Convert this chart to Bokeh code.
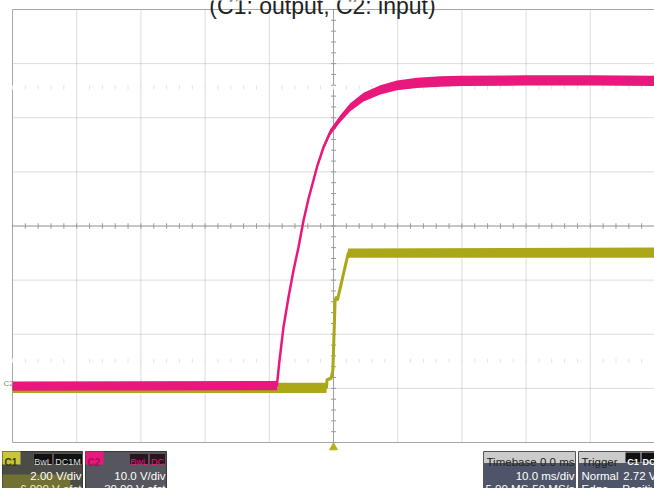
import numpy as np
from bokeh.plotting import figure
from bokeh.models import Range1d
from bokeh.embed import file_html
from bokeh.resources import INLINE
from bokeh.core.properties import value

# ---------------- data ----------------
TITLE = "(C1: output, C2: input)"
time_div = 10.0          # ms/div
time_divs = 10
volt_divs = 8

# C1 : output, 2.00 V/div, -6.000 V offset
c1_scale, c1_offset = 2.0, -6.0
c1_t = [-50.0, -1.1, -1.0, -0.4, -0.1, 0.25, 0.45, 0.6, 2.3, 50.0]          # ms
c1_v = [0.02, 0.02, 0.33, 0.36, 0.66, 3.25, 3.39, 3.25, 5.0, 5.02]          # V
c1_noise = [0.19, 0.19, 0.05, 0.05, 0.03, 0.03, 0.03, 0.03, 0.17, 0.19]     # V (band half-width)

# C2 : input, 10.0 V/div, -30.00 V offset
c2_scale, c2_offset = 10.0, -30.0
c2_t = [-50.0, -8.82, -8.41, -7.79, -7.01, -6.23, -5.45, -4.67, -3.89, -2.58,
        -1.55, -0.51, 1.05, 2.61, 4.68, 7.29, 9.89, 13.0, 16.6, 20.0, 30.0, 40.0, 50.0]
c2_v = [0.4, 0.5, 5.15, 11.3, 16.85, 21.78, 26.08, 31.02, 35.03, 40.86,
        44.56, 47.33, 49.81, 51.95, 53.8, 55.16, 55.96, 56.46, 56.7, 56.8, 56.9, 56.9, 56.8]
c2_noise = [0.85, 0.85, 0.1, 0.1, 0.1, 0.1, 0.15, 0.2, 0.3, 0.4,
            0.45, 0.55, 0.65, 0.75, 0.8, 0.85, 0.9, 0.95, 0.95, 0.95, 0.95, 0.95, 0.95]

trigger_t = 0.0

c1_info = ["C1", "BwL", "DC1M", "2.00 V/div", "-6.000 V ofst"]
c2_info = ["C2", "BwL", "DC", "10.0 V/div", "-30.00 V ofst"]
tb_info = ["Timebase", "0.0 ms", "10.0 ms/div", "5.00 MS", "50 MS/s"]
trig_info = ["Trigger", "C1", "DC", "Normal", "2.72 V", "Edge", "Positive"]

# ---------------- layout / style ----------------
YEL = "#aaa719"
MAG = "#e8187c"
FONT = value("Liberation Sans")
W, H = 654, 488
GRID_L, GRID_R, GRID_T, GRID_B = 12, 654, 9, 442      # screen box of the graticule

half_t = time_div * time_divs / 2
half_d = volt_divs / 2
px_ms = (GRID_R - GRID_L) / (2 * half_t)
px_div = (GRID_B - GRID_T) / volt_divs
x_lo = -half_t - GRID_L / px_ms
x_hi = half_t + (W - GRID_R) / px_ms
d_hi = half_d + GRID_T / px_div
d_lo = -half_d - (H - GRID_B) / px_div


def chan_range(scale, offset):
    return Range1d(-offset + d_lo * scale, -offset + d_hi * scale)


p = figure(width=W, height=H, x_range=Range1d(x_lo, x_hi), y_range=Range1d(d_lo, d_hi),
           x_axis_type=None, y_axis_type=None, output_backend="svg",
           toolbar_location=None, min_border_left=0, min_border_right=0,
           min_border_top=0, min_border_bottom=0,
           background_fill_color="white", border_fill_color="white",
           outline_line_color=None)
p.grid.visible = False
p.extra_y_ranges = {"c1": chan_range(c1_scale, c1_offset),
                    "c2": chan_range(c2_scale, c2_offset),
                    "py": Range1d(H, 0)}
p.extra_x_ranges = {"px": Range1d(0, W)}

# graticule
xt = np.arange(-half_t, half_t + 0.01, time_div)
yt = np.arange(-half_d, half_d + 0.01, 1.0)
p.segment(x0=xt[1:-1], y0=-half_d, x1=xt[1:-1], y1=half_d, line_color="#b9b9b9",
          line_dash="1 1", line_width=1)
p.segment(x0=-half_t, y0=yt[1:-1], x1=half_t, y1=yt[1:-1], line_color="#b9b9b9",
          line_dash="1 1", line_width=1)
p.quad(left=[-half_t], right=[half_t], bottom=[-half_d], top=[half_d], fill_color=None,
       line_color="#a8a8a8", line_width=1)

# centre cross with fine ticks
p.segment(x0=[-half_t], y0=[0], x1=[half_t], y1=[0], line_color="#a0a0a0", line_width=1)
p.segment(x0=[0], y0=[-half_d], x1=[0], y1=[half_d], line_color="#a0a0a0", line_width=1)
mx = np.arange(-half_t, half_t + 0.01, time_div / 5)
my = np.arange(-half_d, half_d + 0.01, 0.2)
p.segment(x0=mx, y0=-0.05, x1=mx, y1=0.05, line_color="#999999", line_width=1)
p.segment(x0=-0.4, y0=my, x1=0.4, y1=my, line_color="#999999", line_width=1)
# faint ghost tick rows
for yy in (2.56, -2.49):
    p.segment(x0=mx, y0=yy - 0.04, x1=mx, y1=yy + 0.04, line_color="#e4e4e4", line_width=1)

# C1 trace (under)
c1v = np.array(c1_v); c1n = np.array(c1_noise)
p.varea(x=c1_t, y1=c1v - c1n, y2=c1v + c1n, y_range_name="c1", fill_color=YEL)
p.line(c1_t, c1_v, y_range_name="c1", line_color=YEL, line_width=3)

# C2 trace (over)
c2v = np.array(c2_v); c2n = np.array(c2_noise)
p.varea(x=c2_t, y1=c2v - c2n, y2=c2v + c2n, y_range_name="c2", fill_color=MAG)
p.line(c2_t, c2_v, y_range_name="c2", line_color=MAG, line_width=2.5)

# title (cut by the top edge, as in the screenshot) and ground marker
p.text(x=[322], y=[5], text=[TITLE], x_range_name="px", y_range_name="py",
       text_align="center", text_baseline="alphabetic", text_font=FONT,
       text_font_size="23px", text_color="#222222")
p.text(x=[3], y=[0.0], text=["C2"], x_range_name="px", y_range_name="c2",
       text_align="left", text_baseline="bottom", text_font=FONT,
       text_font_size="8px", text_color="#888888")

# trigger marker
p.scatter(x=[trigger_t], y=[447], y_range_name="py", marker="triangle", size=8,
          fill_color="#b4b020", line_color="#b4b020")

# ---------------- info panel (screen pixels) ----------------
BOT = 492


def box(l, r, t, b, fill, line=None, alpha=1.0):
    p.quad(left=[l], right=[r], top=[t], bottom=[b], x_range_name="px", y_range_name="py",
           fill_color=fill, line_color=line, fill_alpha=alpha)


def txt(x, y, s, align, color, size="11.5px", style="normal"):
    p.text(x=[x], y=[y], text=[s], x_range_name="px", y_range_name="py",
           text_align=align, text_baseline="alphabetic", text_color=color,
           text_font=FONT, text_font_size=size, text_font_style=style)


# C1 block
box(2, 82, 451, BOT, "#4c4c47", "#3a3a36")
box(2, 70, 474, BOT, "#7c7a30", None, 0.8)
box(2, 20, 451, 464, "#c9c63c")
box(33, 52, 453, 464, "#111111", "#555555")
box(53, 82, 453, 464, "#111111", "#555555")
# C2 block
box(85, 166, 451, BOT, "#56565e", "#3a3a3e")
box(85, 103, 451, 464, MAG)
box(129, 148, 453, 464, "#2a1420", "#555555")
box(149, 165, 453, 464, "#2a1420", "#555555")
# Timebase block
box(483, 575, 451, 463, "#cbcbcb", "#555555")
box(483, 575, 463, BOT, "#4f5568", "#555555")
# Trigger block
box(578, 662, 451, 463, "#cbcbcb", "#555555")
box(578, 662, 463, BOT, "#4f5568", "#555555")
box(625, 640, 452, 462, "#111111")
box(641, 656, 452, 462, "#111111")

txt(4, 462, c1_info[0], "left", "#3a3a10", "10px", "bold")
txt(42.5, 461.5, c1_info[1], "center", "#dddddd", "9px")
txt(67.5, 461.5, c1_info[2], "center", "#dddddd", "9px")
txt(81, 475, c1_info[3], "right", "#ffffff")
txt(81, 488, c1_info[4], "right", "#f0f0c0")

txt(87, 462, c2_info[0], "left", "#a01058", "10px", "bold")
txt(138.5, 461.5, c2_info[1], "center", MAG, "9px")
txt(157, 461.5, c2_info[2], "center", MAG, "9px")
txt(165, 475, c2_info[3], "right", "#ffffff")
txt(165, 488, c2_info[4], "right", "#ffffff")

txt(486, 461, tb_info[0], "left", "#222222")
txt(574, 461, tb_info[1], "right", "#222222")
txt(574, 475, tb_info[2], "right", "#ffffff")
txt(485, 488, tb_info[3], "left", "#ffffff")
txt(574, 488, tb_info[4], "right", "#ffffff")

txt(581, 461, trig_info[0], "left", "#222222")
txt(632.5, 461, trig_info[1], "center", "#ffffff", "9px", "bold")
txt(648.5, 461, trig_info[2], "center", "#ffffff", "9px", "bold")
txt(581, 475, trig_info[3], "left", "#ffffff")
txt(656, 475, trig_info[4], "right", "#ffffff")
txt(581, 488, trig_info[5], "left", "#ffffff")
txt(662, 488, trig_info[6], "right", "#ffffff")

open("out.html", "w").write(file_html(p, INLINE))
